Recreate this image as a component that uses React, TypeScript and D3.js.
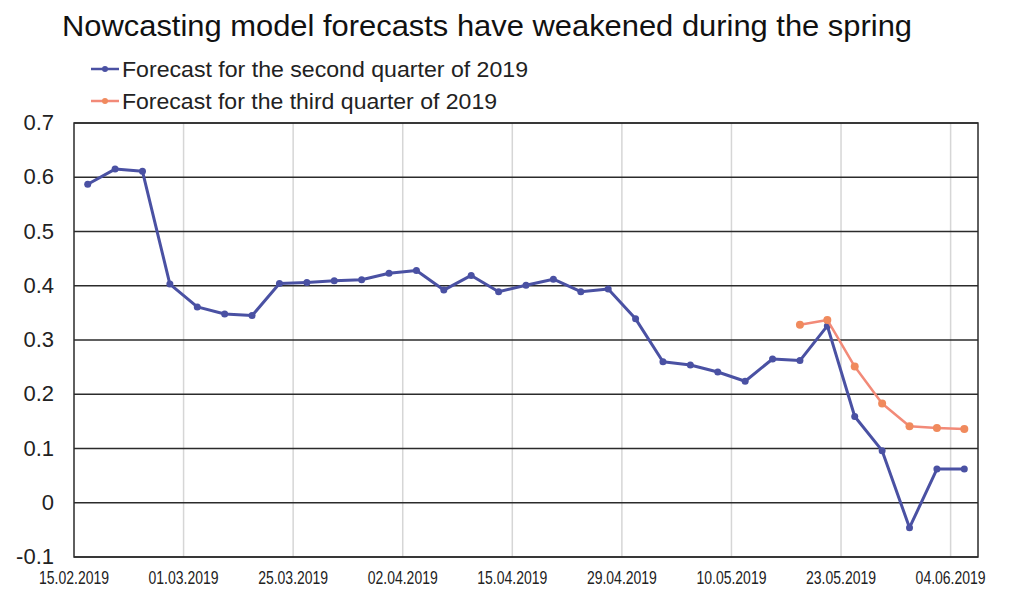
import * as d3 from "d3";

const tickLabels = [
  "15.02.2019", "01.03.2019", "25.03.2019", "02.04.2019", "15.04.2019",
  "29.04.2019", "10.05.2019", "23.05.2019", "04.06.2019",
];

// forecast for the second quarter, one value per nowcast release
const q2 = [
  0.587, 0.615, 0.611, 0.403, 0.361, 0.348, 0.345, 0.404, 0.406, 0.409, 0.411,
  0.423, 0.428, 0.392, 0.419, 0.389, 0.401, 0.412, 0.389, 0.394, 0.339, 0.26,
  0.254, 0.241, 0.224, 0.265, 0.262, 0.326, 0.159, 0.096, -0.046, 0.062, 0.062,
];

// forecast for the third quarter starts later
const q3: (number | null)[] = [
  null, null, null, null, null, null, null, null, null, null, null,
  null, null, null, null, null, null, null, null, null, null, null,
  null, null, null, null, 0.328, 0.337, 0.251, 0.183, 0.141, 0.138, 0.136,
];

const yTicks = [0.7, 0.6, 0.5, 0.4, 0.3, 0.2, 0.1, 0, -0.1];

const W = 1013;
const H = 590;
const plot = { left: 74, right: 978, top: 123, bottom: 557 };

const BLUE = "#4a51a3";
const ORANGE_LINE = "#f28a78";
const ORANGE_DOT = "#f08a5d";

export default function App() {
  const idx = q2.map((_, i) => i);
  const x = d3.scaleBand<number>().domain(idx).range([plot.left, plot.right]).padding(0);
  const y = d3.scaleLinear().domain([-0.1, 0.7]).range([plot.bottom, plot.top]);
  const cx = (i: number) => (x(i) as number) + x.bandwidth() / 2;

  const line = d3
    .line<number | null>()
    .defined((d) => d != null)
    .x((_, i) => cx(i))
    .y((d) => y(d as number));

  const gridIdx = idx.filter((i) => i % 4 === 0);
  const fmt = (v: number) => (v === 0 ? "0" : v.toFixed(1));

  return (
    <svg width={W} height={H} style={{ position: "absolute", left: 0, top: 0, background: "#fff" }}>
      <text x={62} y={36} textLength={850} lengthAdjust="spacingAndGlyphs" fontFamily="Liberation Sans, Arial" fontSize={29} fill="#111">
        Nowcasting model forecasts have weakened during the spring
      </text>

      {/* legend */}
      <g fontFamily="Liberation Sans, Arial" fontSize={22} fill="#222">
        <line x1={91} x2={119} y1={69} y2={69} stroke={BLUE} strokeWidth={2.5} />
        <circle cx={105} cy={69} r={3} fill={BLUE} />
        <text x={122} y={77} textLength={406} lengthAdjust="spacingAndGlyphs">Forecast for the second quarter of 2019</text>
        <line x1={91} x2={119} y1={101} y2={101} stroke={ORANGE_LINE} strokeWidth={2.5} />
        <circle cx={105} cy={101} r={3} fill={ORANGE_DOT} />
        <text x={122} y={109} textLength={375} lengthAdjust="spacingAndGlyphs">Forecast for the third quarter of 2019</text>
      </g>

      {/* vertical grid */}
      {gridIdx.slice(1).map((i) => (
        <line key={"v" + i} x1={x(i)} x2={x(i)} y1={plot.top} y2={plot.bottom} stroke="#d6d6d6" strokeWidth={1.5} />
      ))}
      {/* horizontal grid */}
      {yTicks.map((t) => (
        <line key={"h" + t} x1={plot.left} x2={plot.right} y1={y(t)} y2={y(t)} stroke="#2b2b2b" strokeWidth={1.5} />
      ))}
      <rect x={plot.left} y={plot.top} width={plot.right - plot.left} height={plot.bottom - plot.top} fill="none" stroke="#2b2b2b" strokeWidth={1.5} />

      {/* y labels */}
      <g fontFamily="Liberation Sans, Arial" fontSize={22} fill="#222" textAnchor="end">
        {yTicks.map((t) => (
          <text key={"yl" + t} x={54} y={y(t) + 7}>{fmt(t)}</text>
        ))}
      </g>

      {/* x labels */}
      <g fontFamily="Liberation Sans, Arial" fontSize={19} fill="#222" textAnchor="middle">
        {gridIdx.map((i, k) => (
          <text key={"xl" + i} x={x(i)} y={584} textLength={70} lengthAdjust="spacingAndGlyphs">{tickLabels[k]}</text>
        ))}
      </g>

      {/* series */}
      <path d={line(q2) || ""} fill="none" stroke={BLUE} strokeWidth={3} strokeLinejoin="round" />
      {q2.map((v, i) => (
        <circle key={"b" + i} cx={cx(i)} cy={y(v)} r={3.5} fill={BLUE} />
      ))}
      <path d={line(q3) || ""} fill="none" stroke={ORANGE_LINE} strokeWidth={2.5} strokeLinejoin="round" />
      {q3.map((v, i) =>
        v == null ? null : <circle key={"o" + i} cx={cx(i)} cy={y(v)} r={4} fill={ORANGE_DOT} />
      )}
    </svg>
  );
}
